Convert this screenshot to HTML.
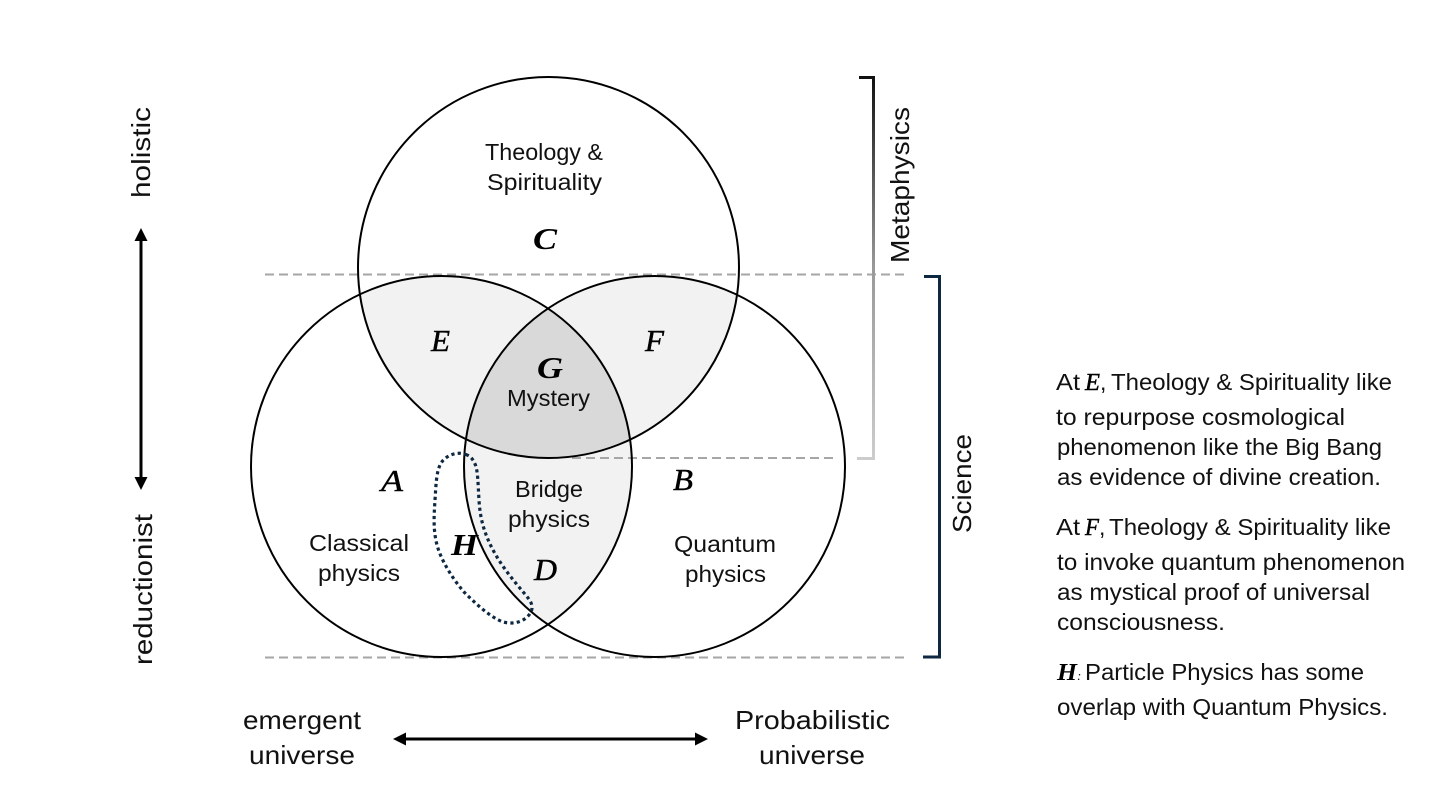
<!DOCTYPE html>
<html lang="en">
<head>
<meta charset="utf-8">
<title>Venn diagram of physics and metaphysics</title>
<style>
html,body{margin:0;padding:0;background:#fff;width:1438px;height:802px;overflow:hidden}
svg{display:block}
text{font-family:"Liberation Sans",sans-serif;font-size:23px;fill:#111}
.m{font-family:"Liberation Serif",serif;font-style:italic;font-size:31px;fill:#000;stroke:#000;stroke-width:.45px}
.b{font-weight:bold;stroke:none}
.l{font-size:26px}
</style>
</head>
<body>
<svg xmlns="http://www.w3.org/2000/svg" width="1438" height="802" viewBox="0 0 1438 802">
<defs>
<clipPath id="cT"><circle cx="548.5" cy="267.5" r="190.5"/></clipPath>
<clipPath id="cL"><circle cx="441.5" cy="466.5" r="190.5"/></clipPath>
<clipPath id="cR"><circle cx="654.5" cy="466.5" r="190.5"/></clipPath>
<linearGradient id="g1" gradientUnits="userSpaceOnUse" x1="0" y1="77" x2="0" y2="458">
<stop offset="0" stop-color="#111"/><stop offset="0.5" stop-color="#999"/><stop offset="1" stop-color="#ccc"/>
</linearGradient>
</defs>

<!-- region fills -->
<g clip-path="url(#cT)"><circle cx="441.5" cy="466.5" r="190.5" fill="#f2f2f2"/><circle cx="654.5" cy="466.5" r="190.5" fill="#f2f2f2"/></g>
<g clip-path="url(#cL)"><circle cx="654.5" cy="466.5" r="190.5" fill="#f2f2f2"/></g>
<g clip-path="url(#cL)"><g clip-path="url(#cR)"><circle cx="548.5" cy="267.5" r="190.5" fill="#d9d9d9"/></g></g>

<!-- dashed lines -->
<g stroke="#a6a6a6" stroke-width="2" stroke-dasharray="9 5" fill="none">
<path d="M265 274.500H905"/>
<path d="M572 458H835"/>
<path d="M265 657.500H905"/>
</g>

<!-- circles -->
<g fill="none" stroke="#000" stroke-width="2">
<circle cx="548.5" cy="267.5" r="190.5"/>
<circle cx="441.5" cy="466.5" r="190.5"/>
<circle cx="654.5" cy="466.5" r="190.5"/>
</g>

<!-- brackets -->
<path d="M859 77.500H873.500V458.500H857" fill="none" stroke="url(#g1)" stroke-width="3"/>
<path d="M924 276.500H939.500V657H923" fill="none" stroke="#0e2841" stroke-width="3"/>

<!-- H dotted outline -->
<path d="M467 455C459 451 447 454 441 463C436 472 436 486 435 500C434 515 433 530 437 545C441 560 452 578 464 592C476 604 490 617 503 622C515 625 526 621 531 612C534 605 530 600 524 593C514 581 502 567 493 550C484 533 480 518 479 500C478 485 478 470 475 464C473 459 470 456 467 455Z" fill="none" stroke="#0e2841" stroke-width="3.200" stroke-dasharray="3.200 3.200"/>

<!-- arrows -->
<g fill="#000" stroke="none">
<rect x="139.500" y="238" width="3" height="242"/>
<path d="M141 228L147.500 241H134.500Z"/>
<path d="M141 490L147.500 477H134.500Z"/>
<rect x="403" y="737.500" width="295" height="3"/>
<path d="M393 739L406 732.500V745.500Z"/>
<path d="M708 739L695 732.500V745.500Z"/>
</g>

<!-- math letters -->
<text class="m" x="381" y="491" textLength="22" lengthAdjust="spacingAndGlyphs">A</text>
<text class="m" x="673" y="490" textLength="20" lengthAdjust="spacingAndGlyphs">B</text>
<text class="m b" x="533" y="249" textLength="24" lengthAdjust="spacingAndGlyphs">C</text>
<text class="m" x="534" y="580" textLength="23" lengthAdjust="spacingAndGlyphs">D</text>
<text class="m" x="431" y="351" textLength="19" lengthAdjust="spacingAndGlyphs">E</text>
<text class="m" x="645" y="351" textLength="19" lengthAdjust="spacingAndGlyphs">F</text>
<text class="m b" x="537" y="378" textLength="26" lengthAdjust="spacingAndGlyphs">G</text>
<text class="m b" x="451" y="555" textLength="27" lengthAdjust="spacingAndGlyphs">H</text>

<!-- region labels -->
<text x="485" y="160" textLength="118" lengthAdjust="spacingAndGlyphs">Theology &amp;</text>
<text x="487" y="190" textLength="115" lengthAdjust="spacingAndGlyphs">Spirituality</text>
<text x="507" y="406" textLength="83" lengthAdjust="spacingAndGlyphs">Mystery</text>
<text x="515" y="497" textLength="68" lengthAdjust="spacingAndGlyphs">Bridge</text>
<text x="508" y="527" textLength="82" lengthAdjust="spacingAndGlyphs">physics</text>
<text x="309" y="551" textLength="100" lengthAdjust="spacingAndGlyphs">Classical</text>
<text x="318" y="581" textLength="82" lengthAdjust="spacingAndGlyphs">physics</text>
<text x="674" y="552" textLength="102" lengthAdjust="spacingAndGlyphs">Quantum</text>
<text x="685" y="582" textLength="81" lengthAdjust="spacingAndGlyphs">physics</text>

<!-- axis labels -->
<text class="l" x="243" y="729" textLength="118" lengthAdjust="spacingAndGlyphs">emergent</text>
<text class="l" x="249" y="764" textLength="106" lengthAdjust="spacingAndGlyphs">universe</text>
<text class="l" x="735" y="729" textLength="155" lengthAdjust="spacingAndGlyphs">Probabilistic</text>
<text class="l" x="759" y="764" textLength="106" lengthAdjust="spacingAndGlyphs">universe</text>
<text class="l" transform="translate(150 198) rotate(-90)" textLength="91" lengthAdjust="spacingAndGlyphs">holistic</text>
<text class="l" transform="translate(152 665) rotate(-90)" textLength="151" lengthAdjust="spacingAndGlyphs">reductionist</text>
<text class="l" transform="translate(909 263) rotate(-90)" textLength="156" lengthAdjust="spacingAndGlyphs">Metaphysics</text>
<text class="l" transform="translate(971 533) rotate(-90)" textLength="99" lengthAdjust="spacingAndGlyphs">Science</text>

<!-- side text -->
<text x="1056" y="390" textLength="24" lengthAdjust="spacingAndGlyphs">At</text>
<text class="m" style="font-size:24px" x="1085" y="390" textLength="15" lengthAdjust="spacingAndGlyphs">E</text>
<text x="1100" y="390">,</text>
<text x="1111" y="390" textLength="281" lengthAdjust="spacingAndGlyphs">Theology &amp; Spirituality like</text>
<text x="1056" y="425" textLength="289" lengthAdjust="spacingAndGlyphs">to repurpose cosmological</text>
<text x="1057" y="455" textLength="325" lengthAdjust="spacingAndGlyphs">phenomenon like the Big Bang</text>
<text x="1057" y="485" textLength="324" lengthAdjust="spacingAndGlyphs">as evidence of divine creation.</text>

<text x="1056" y="535" textLength="24" lengthAdjust="spacingAndGlyphs">At</text>
<text class="m" style="font-size:24px" x="1085" y="535" textLength="14" lengthAdjust="spacingAndGlyphs">F</text>
<text x="1099" y="535">,</text>
<text x="1109" y="535" textLength="282" lengthAdjust="spacingAndGlyphs">Theology &amp; Spirituality like</text>
<text x="1057" y="570" textLength="348" lengthAdjust="spacingAndGlyphs">to invoke quantum phenomenon</text>
<text x="1057" y="600" textLength="313" lengthAdjust="spacingAndGlyphs">as mystical proof of universal</text>
<text x="1057" y="630" textLength="168" lengthAdjust="spacingAndGlyphs">consciousness.</text>

<text class="m b" style="font-size:24px" x="1057" y="680" textLength="20" lengthAdjust="spacingAndGlyphs">H</text>
<text class="m" style="font-size:13px;stroke:none" x="1077" y="680">:</text>
<text x="1085" y="680" textLength="279" lengthAdjust="spacingAndGlyphs">Particle Physics has some</text>
<text x="1057" y="715" textLength="331" lengthAdjust="spacingAndGlyphs">overlap with Quantum Physics.</text>
</svg>
</body>
</html>
